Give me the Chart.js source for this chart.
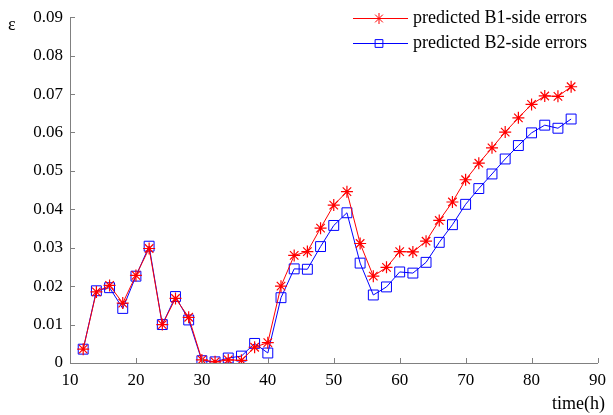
<!DOCTYPE html>
<html>
<head>
<meta charset="utf-8">
<script src="https://cdn.jsdelivr.net/npm/chart.js@4"></script>
<style>
  html, body { margin: 0; padding: 0; background: #fff; }
  #wrap { width: 613px; height: 415px; }
</style>
</head>
<body>
<div id="wrap"><canvas id="c"></canvas></div>
<script>
/* data */
const hours = [12, 14, 16, 18, 20, 22, 24, 26, 28, 30, 32, 34, 36, 38, 40, 42, 44, 46, 48, 50,
  52, 54, 56, 58, 60, 62, 64, 66, 68, 70, 72, 74, 76, 78, 80, 82, 84, 86];
const b1Errors = [0.0036, 0.0185, 0.0202, 0.0156, 0.0228, 0.0298, 0.0100, 0.0168, 0.0119, 0.0008,
  0.0003, 0.0008, 0.0007, 0.0041, 0.0053, 0.0200, 0.0280, 0.0290, 0.0351, 0.0411,
  0.0446, 0.0311, 0.0226, 0.0249, 0.0290, 0.0289, 0.0317, 0.0371, 0.0419, 0.0477,
  0.0520, 0.0560, 0.0601, 0.0638, 0.0673, 0.0695, 0.0694, 0.0719];
const b2Errors = [0.0036, 0.0188, 0.0196, 0.0142, 0.0226, 0.0304, 0.0100, 0.0173, 0.0112, 0.0006,
  0.0003, 0.0013, 0.0018, 0.0051, 0.0026, 0.0170, 0.0245, 0.0244, 0.0303, 0.0358,
  0.0391, 0.0260, 0.0177, 0.0198, 0.0237, 0.0234, 0.0262, 0.0314, 0.0360, 0.0413,
  0.0454, 0.0492, 0.0531, 0.0566, 0.0599, 0.0619, 0.0611, 0.0635];
const seriesNames = ['predicted B1-side errors', 'predicted B2-side errors'];
const xTicks = [10, 20, 30, 40, 50, 60, 70, 80, 90];
const yTicks = [0, 0.01, 0.02, 0.03, 0.04, 0.05, 0.06, 0.07, 0.08, 0.09];

const FONT = "'Liberation Serif', 'Times New Roman', serif";
const AXIS = '#808080';

/* ── inward ticks, axis titles, legend ── */
const decor = {
  id: 'decor',
  afterDraw(chart) {
    const ctx = chart.ctx, a = chart.chartArea;
    const xs = chart.scales.x, ys = chart.scales.y;
    ctx.save();
    ctx.strokeStyle = AXIS;
    ctx.lineWidth = 1;
    ctx.beginPath();
    xTicks.forEach(v => {
      const px = Math.round(xs.getPixelForValue(v)) + 0.5;
      ctx.moveTo(px, a.bottom); ctx.lineTo(px, a.bottom - 5);
    });
    yTicks.forEach(v => {
      const py = Math.round(ys.getPixelForValue(v)) + 0.5;
      ctx.moveTo(a.left, py); ctx.lineTo(a.left + 5, py);
    });
    ctx.stroke();

    ctx.fillStyle = '#000';
    ctx.font = '18px ' + FONT;
    ctx.textBaseline = 'middle';
    ctx.textAlign = 'left';
    ctx.fillText('ε', 8, 25);
    ctx.textAlign = 'right';
    ctx.fillText('time(h)', 605, 404);

    // legend
    ctx.textAlign = 'left';
    chart.data.datasets.forEach((ds, i) => {
      const y = 18 + i * 25;
      ctx.strokeStyle = ds.borderColor;
      ctx.lineWidth = 1;
      ctx.beginPath();
      ctx.moveTo(353, y + 0.5); ctx.lineTo(408, y + 0.5);
      ctx.stroke();
      ctx.fillStyle = 'rgba(0,0,0,0)';
      Chart.helpers.drawPoint(ctx, {
        pointStyle: ds.pointStyle, radius: i === 0 ? 5.5 : 5.5, borderWidth: 1
      }, 379, y + 0.5);
      ctx.fillStyle = '#000';
      ctx.fillText(seriesNames[i], 413, y);
    });
    ctx.restore();
  }
};

new Chart(document.getElementById('c'), {
  type: 'line',
  data: {
    datasets: [
      {
        label: seriesNames[0],
        data: hours.map((h, i) => ({ x: h, y: b1Errors[i] })),
        borderColor: '#ff0000',
        backgroundColor: 'rgba(0,0,0,0)',
        borderWidth: 1,
        pointStyle: 'star',
        pointRadius: 6,
        pointBorderColor: '#ff0000',
        pointBackgroundColor: 'rgba(0,0,0,0)',
        pointBorderWidth: 1.2,
        tension: 0
      },
      {
        label: seriesNames[1],
        data: hours.map((h, i) => ({ x: h, y: b2Errors[i] })),
        borderColor: '#0000ff',
        backgroundColor: 'rgba(0,0,0,0)',
        borderWidth: 1,
        pointStyle: 'rect',
        pointRadius: 7,
        pointBorderColor: '#0000ff',
        pointBackgroundColor: 'rgba(0,0,0,0)',
        pointBorderWidth: 1,
        tension: 0
      }
    ]
  },
  options: {
    responsive: true,
    maintainAspectRatio: false,
    animation: false,
    layout: { padding: { top: 11, right: 10, left: 0, bottom: 0 } },
    scales: {
      x: {
        type: 'linear',
        min: 10, max: 90,
        afterFit: s => { s.height = 52; },
        afterBuildTicks: s => { s.ticks = xTicks.map(v => ({ value: v })); },
        grid: { display: false, drawTicks: false },
        border: { display: true, color: AXIS, width: 1 },
        ticks: { color: '#000', padding: 7, font: { family: FONT, size: 17 } }
      },
      y: {
        min: 0, max: 0.09,
        afterFit: s => { s.width = 70; },
        afterBuildTicks: s => { s.ticks = yTicks.map(v => ({ value: v })); },
        grid: { display: false, drawTicks: false },
        border: { display: true, color: AXIS, width: 1 },
        ticks: {
          color: '#000', padding: 7, font: { family: FONT, size: 17 },
          callback: v => v === 0 ? '0' : v.toFixed(2)
        }
      }
    },
    plugins: { legend: { display: false }, tooltip: { enabled: false } }
  },
  plugins: [decor]
});
</script>
</body>
</html>
